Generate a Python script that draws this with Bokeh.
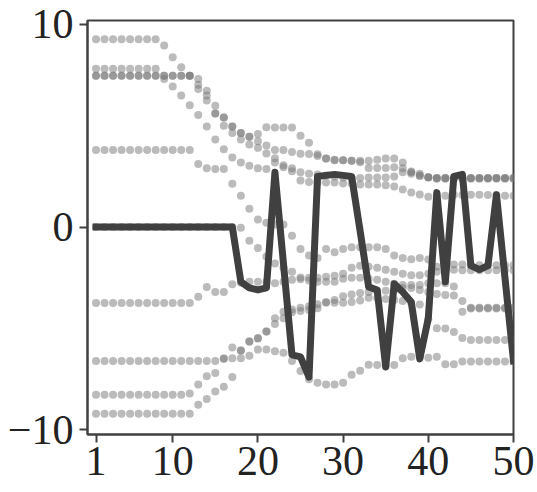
from bokeh.plotting import figure
from bokeh.models import Range1d, FixedTicker
from bokeh.embed import file_html
from bokeh.resources import INLINE

steps = list(range(1, 51))

s1 = [9.26, 9.26, 9.26, 9.26, 9.26, 9.26, 9.26, 9.26, 8.96, 8.38,
      7.89, 7.46, 7.30, 6.73, 5.98, 5.41, 4.96, 4.64, 4.45, 4.59,
      4.93, 4.91, 4.91, 4.91, 4.51, 4.16, 3.59, 3.38, 3.30, 3.30,
      3.27, 3.27, 3.27, 3.32, 3.38, 3.38, 3.19, 2.74, 2.63, 2.46,
      2.42, 2.42, 2.42, 2.42, 2.42, 2.42, 2.42, 2.42, 2.42, 2.42]
s2 = [7.81, 7.81, 7.81, 7.81, 7.81, 7.81, 7.81, 7.81, 7.30, 6.93,
      6.49, 6.01, 5.53, 4.96, 4.32, 3.84, 3.43, 3.19, 3.03, 2.90,
      2.87, 3.19, 2.95, 2.90, 2.71, 2.63, 2.60, 2.55, 2.50, 2.45,
      2.42, 2.42, 2.45, 2.45, 2.45, 2.50, 2.71, 2.63, 2.52, 2.46,
      2.42, 2.42, 2.42, 2.42, 2.42, 2.42, 2.42, 2.42, 2.42, 2.42]
s3 = [7.46, 7.46, 7.46, 7.46, 7.46, 7.46, 7.46, 7.46, 7.46, 7.46,
      7.46, 7.46, 7.02, 6.49, 5.60, 5.41, 4.96, 4.64, 4.45, 4.24,
      4.03, 3.80, 3.80, 3.70, 3.62, 3.60, 3.51, 3.38, 3.32, 3.30,
      3.27, 3.20, 2.91, 2.91, 2.91, 2.95, 2.90, 2.70, 2.55, 2.45,
      2.38, 2.38, 2.38, 2.38, 2.38, 2.38, 2.38, 2.38, 2.38, 2.38]
s4 = [7.46, 7.46, 7.46, 7.46, 7.46, 7.46, 7.46, 7.46, 7.46, 7.46,
      7.46, 7.46, 6.81, 6.25, 5.60, 5.00, 4.64, 4.32, 4.08, 3.91,
      3.63, 3.40, 3.05, 2.75, 2.30, 2.22, 2.20, 2.20, 2.20, 2.15,
      2.15, 2.10, 2.10, 2.10, 2.06, 2.00, 1.85, 1.71, 1.61, 1.50,
      1.58, 1.55, 1.60, 1.58, 1.60, 1.60, 1.58, 1.58, 1.55, 1.55]
s5 = [3.80, 3.80, 3.80, 3.80, 3.80, 3.80, 3.80, 3.80, 3.80, 3.80,
      3.80, 3.80, 3.11, 2.90, 2.87, 2.87, 2.14, 1.55, 0.90, 0.37,
      0.21, 0.13, 0.13, -0.43, -1.08, -1.40, -1.53, -1.08, -1.24, -1.08,
      -1.00, -1.00, -1.00, -1.00, -1.08, -1.40, -1.53, -1.59, -1.53, -1.60,
      -1.96, -1.84, -1.84, -1.84, -1.88, -1.88, -1.88, -1.88, -1.88, -1.88]
s6 = [0.00, 0.00, 0.00, 0.00, 0.00, 0.00, 0.00, 0.00, 0.00, 0.00,
      0.00, 0.00, 0.00, 0.00, 0.00, 0.00, 0.00, -0.03, -0.67, -1.03,
      -1.45, -1.80, -2.00, -2.20, -2.49, -2.50, -2.50, -2.45, -2.40, -2.30,
      -2.01, -1.91, -1.95, -2.01, -2.10, -2.20, -2.30, -2.37, -2.37, -2.30,
      -2.20, -2.15, -2.10, -2.13, -2.13, -2.13, -2.13, -2.13, -2.13, -2.13]
s7 = [-3.75, -3.75, -3.75, -3.75, -3.75, -3.75, -3.75, -3.75, -3.75, -3.75,
      -3.75, -3.75, -3.44, -2.96, -3.20, -3.20, -2.82, -2.75, -2.70, -2.70,
      -2.70, -2.77, -2.69, -2.60, -2.57, -2.64, -2.70, -2.69, -2.70, -2.55,
      -2.50, -2.50, -2.55, -2.60, -2.70, -2.80, -2.85, -2.85, -2.85, -2.77,
      -2.77, -2.77, -2.93, -3.65, -3.98, -3.98, -3.98, -3.98, -3.98, -3.98]
s8 = [-6.60, -6.60, -6.60, -6.60, -6.60, -6.60, -6.60, -6.60, -6.60, -6.60,
      -6.60, -6.60, -6.60, -6.60, -6.60, -6.50, -6.47, -6.47, -6.34, -6.04,
      -6.04, -6.12, -6.20, -6.60, -7.10, -7.50, -7.68, -7.76, -7.76, -7.68,
      -7.28, -7.08, -6.79, -6.80, -6.85, -6.80, -6.47, -6.39, -6.39, -6.45,
      -6.39, -6.76, -6.76, -6.63, -6.63, -6.63, -6.63, -6.63, -6.63, -6.63]
s9 = [-8.27, -8.27, -8.27, -8.27, -8.27, -8.27, -8.27, -8.27, -8.27, -8.27,
      -8.27, -8.21, -7.76, -7.36, -7.20, -6.47, -5.94, -6.10, -5.65, -5.50,
      -5.15, -4.50, -4.18, -4.06, -3.98, -3.90, -3.80, -3.69, -3.60, -3.41,
      -3.33, -3.25, -3.20, -3.15, -3.14, -3.10, -3.00, -3.00, -3.10, -3.20,
      -3.30, -3.35, -3.38, -4.18, -4.02, -4.02, -4.02, -4.02, -4.02, -4.02]
s10 = [-9.21, -9.21, -9.21, -9.21, -9.21, -9.21, -9.21, -9.21, -9.21, -9.21,
       -9.21, -9.21, -8.76, -8.48, -8.11, -7.87, -7.39, -6.07, -5.63, -5.47,
       -5.15, -4.78, -4.50, -4.20, -4.14, -4.09, -4.00, -3.73, -3.73, -3.73,
       -3.70, -3.62, -3.49, -3.50, -3.55, -3.60, -3.65, -3.75, -3.82, -4.54,
       -4.99, -5.00, -5.18, -5.47, -5.57, -5.57, -5.57, -5.57, -5.57, -5.57]

highlight = [0.0, 0.0, 0.0, 0.0, 0.0, 0.0, 0.0, 0.0, 0.0, 0.0,
             0.0, 0.0, 0.0, 0.0, 0.0, 0.0, 0.0, -2.7, -3.0, -3.1,
             -3.0, 2.7, -1.8, -6.3, -6.4, -7.4, 2.5, 2.55, 2.6, 2.55,
             2.5, -0.2, -2.95, -3.1, -6.9, -2.8, -3.2, -3.7, -6.5, -4.5,
             1.7, -2.7, 2.5, 2.6, -1.9, -2.1, -1.9, 1.6, -2.5, -6.6]

series = [s1, s2, s3, s4, s5, s6, s7, s8, s9, s10]

x_ticks = [1, 10, 20, 30, 40, 50]
y_ticks = [-10, 0, 10]
y_tick_labels = {-10: "\u221210", 0: "0", 10: "10"}

p = figure(width=537, height=492, output_backend="svg", toolbar_location=None,
           x_range=Range1d(0, 50), y_range=Range1d(-10.23, 10.19),
           min_border_left=87, min_border_right=24, min_border_top=20,
           min_border_bottom=58)

p.background_fill_color = "white"
p.border_fill_color = "white"
p.xgrid.visible = False
p.ygrid.visible = False
p.outline_line_color = "#404040"
p.outline_line_width = 2

for s in series:
    p.scatter(steps, s, size=8, fill_color="#777777", fill_alpha=0.5,
              line_color=None)

p.line(steps, highlight, line_width=7, line_color="#404040",
       line_join="round", line_cap="square")

p.xaxis.ticker = FixedTicker(ticks=x_ticks)
p.yaxis.ticker = FixedTicker(ticks=y_ticks)
p.yaxis.major_label_overrides = y_tick_labels

for ax in (p.xaxis, p.yaxis):
    ax.axis_line_color = "#404040"
    ax.axis_line_width = 2
    ax.major_tick_line_color = "#404040"
    ax.major_tick_line_width = 2
    ax.major_tick_out = 8
    ax.major_tick_in = 0
    ax.minor_tick_line_color = None
    ax.major_label_text_font = "Liberation Serif"
    ax.major_label_text_font_size = "42px"
    ax.major_label_text_color = "#222222"

p.yaxis.major_label_standoff = 6
p.xaxis.major_label_standoff = 4

open("out.html", "w").write(file_html(p, INLINE))
